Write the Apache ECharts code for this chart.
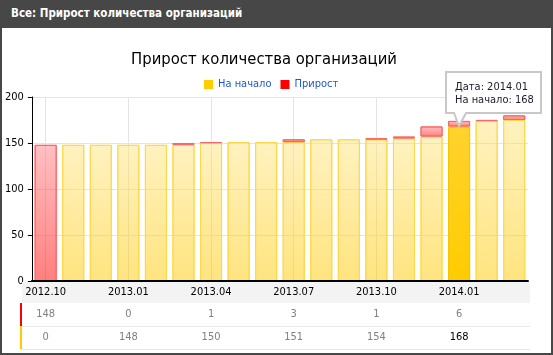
<!DOCTYPE html>
<html>
<head>
<meta charset="utf-8">
<script src="https://cdn.jsdelivr.net/npm/echarts@6/dist/echarts.min.js"></script>
<style>
  body { margin: 0; background: #fff; }
  #box { position: relative; width: 553px; height: 355px; box-sizing: border-box; border: 2px solid #474747; border-top: 0; }
  #head { height: 28px; margin: 0 -2px; padding-left: 11px; background: #474747; color: #fff;
          font: bold 11.5px 'DejaVu Sans Condensed', sans-serif; line-height: 27px; }
  #chart { position: absolute; left: 0; top: 28px; width: 549px; height: 325px; }
</style>
</head>
<body>
<div id="box">
  <div id="head">Все: Прирост количества организаций</div>
  <div id="chart"></div>
</div>
<script>
// данные
var categories = ['2012.10', '2012.11', '2012.12', '2013.01', '2013.02', '2013.03', '2013.04', '2013.05', '2013.06',
                  '2013.07', '2013.08', '2013.09', '2013.10', '2013.11', '2013.12', '2014.01', '2014.02', '2014.03'];
var naNachalo = [0, 148, 148, 148, 148, 148, 150, 151, 151, 151, 154, 154, 154, 155, 157, 168, 174, 175];
var prirost = [148, 0, 0, 0, 0, 2, 1, 0, 0, 3, 0, 0, 1, 2, 11, 6, 1, 5];
var activeIndex = 15;

var FONT = 'DejaVu Sans Condensed';

var chart = echarts.init(document.getElementById('chart'));

function grad(c1, c2) {
  return new echarts.graphic.LinearGradient(0, 0, 0, 1, [
    { offset: 0, color: c1 },
    { offset: 1, color: c2 }
  ]);
}

function rowAxis(offset, values, color, showLine) {
  return {
    type: 'category',
    data: categories,
    position: 'bottom',
    offset: offset,
    z: 10,
    axisLine: { show: !!showLine, lineStyle: { color: '#000', width: 2 } },
    axisTick: { show: false },
    splitLine: { show: false },
    axisLabel: {
      interval: 2,
      margin: 6,
      fontSize: 11,
      fontFamily: FONT,
      color: color,
      formatter: values ? function (v, i) {
        return i === activeIndex && values === naNachalo ? '{b|' + values[i] + '}' : String(values[i]);
      } : null,
      rich: { b: { color: '#000', fontSize: 11, fontFamily: FONT } }
    }
  };
}

var option = {
  animation: false,
  title: {
    text: 'Прирост количества организаций',
    left: 262,
    textAlign: 'center',
    top: 23,
    padding: 0,
    textStyle: { fontSize: 16.5, fontWeight: 'normal', color: '#000', fontFamily: FONT }
  },
  legend: {
    left: 202,
    top: 51,
    padding: 0,
    itemWidth: 9,
    itemHeight: 9,
    itemGap: 9,
    icon: 'rect',
    itemStyle: { borderWidth: 0 },
    textStyle: { color: '#1a5ad7', fontSize: 11, fontFamily: FONT },
    data: [
      { name: 'На начало', itemStyle: { color: '#ffcc00', borderWidth: 0 } },
      { name: 'Прирост', itemStyle: { color: '#ff0000', borderWidth: 0 } }
    ]
  },
  grid: { left: 28, right: 23, top: 69, bottom: 72, containLabel: false },
  xAxis: [
    {
      type: 'category',
      data: categories,
      position: 'bottom',
      axisLine: { show: false },
      axisTick: { show: false },
      axisLabel: { show: false },
      splitLine: { show: true, interval: 2, alignWithLabel: true, lineStyle: { color: '#e4e4e4' } }
    },
    rowAxis(0, null, '#000', true),
    rowAxis(22, prirost, '#808080'),
    rowAxis(45, naNachalo, '#808080')
  ],
  yAxis: {
    type: 'value',
    min: 0,
    max: 200,
    interval: 50,
    axisLine: { show: true, lineStyle: { color: '#000' } },
    axisTick: { show: true, length: 4, lineStyle: { color: '#000' } },
    axisLabel: { color: '#000', fontSize: 11, fontFamily: FONT, margin: 8 },
    splitLine: { lineStyle: { color: '#e4e4e4' } }
  },
  series: [
    {
      name: 'На начало',
      type: 'bar',
      stack: 'all',
      barCategoryGap: '20%',
      emphasis: { disabled: true },
      itemStyle: {
        color: grad('rgba(255,229,129,0.5)', 'rgba(255,201,0,0.5)'),
        borderColor: '#ffd84a',
        borderWidth: 1
      },
      data: naNachalo.map(function (v, i) {
        var item = { value: v || '-' };
        if (i === activeIndex) {
          item.itemStyle = { color: grad('#ffd22e', '#ffcc00'), borderColor: '#f7c400' };
        }
        return item;
      })
    },
    {
      name: 'Прирост',
      type: 'bar',
      stack: 'all',
      barCategoryGap: '20%',
      emphasis: { disabled: true },
      itemStyle: {
        color: grad('rgba(255,130,137,0.5)', 'rgba(255,0,0,0.5)'),
        borderColor: '#ff6464',
        borderWidth: 1
      },
      data: prirost.map(function (v) { return v || '-'; })
    }
  ]
};

chart.setOption(option);

// таблица под осью и подсказка
var tip = chart.convertToPixel({ xAxisIndex: 0, yAxisIndex: 0 }, [activeIndex, naNachalo[activeIndex]]);
var tx = Math.round(tip[0]), ty = Math.round(tip[1]);
var L = tx - 13, R = L + 95, T = ty - 54, B = ty - 13;

chart.setOption({
  graphic: [
    { type: 'rect', z: 4, shape: { x: 20, y: 254, width: 508, height: 21 }, style: { fill: '#f3f3f3' } },
    { type: 'line', z: 4, shape: { x1: 20, y1: 298.5, x2: 528, y2: 298.5 }, style: { stroke: '#e8e8e8', lineWidth: 1 } },
    { type: 'line', z: 4, shape: { x1: 20, y1: 321.5, x2: 528, y2: 321.5 }, style: { stroke: '#e8e8e8', lineWidth: 1 } },
    { type: 'rect', z: 4, shape: { x: 18, y: 275, width: 2, height: 23 }, style: { fill: '#ff0000' } },
    { type: 'rect', z: 4, shape: { x: 18, y: 298, width: 2, height: 23 }, style: { fill: '#ffcc00' } },
    {
      type: 'polygon', z: 20,
      shape: { points: [[L, T], [R, T], [R, B], [tx + 7, B], [tx, ty], [tx - 5, B], [L, B]] },
      style: { fill: '#fff', stroke: '#c8c8c8', lineWidth: 2 }
    },
    {
      type: 'text', z: 21, x: L + 9, y: T + 15,
      style: { text: 'Дата: ' + categories[activeIndex], fill: '#1a1a2e', font: '11px "' + FONT + '"', verticalAlign: 'middle' }
    },
    {
      type: 'text', z: 21, x: L + 9, y: T + 28,
      style: { text: 'На начало: ' + naNachalo[activeIndex], fill: '#1a1a2e', font: '11px "' + FONT + '"', verticalAlign: 'middle' }
    }
  ]
});
</script>
</body>
</html>
